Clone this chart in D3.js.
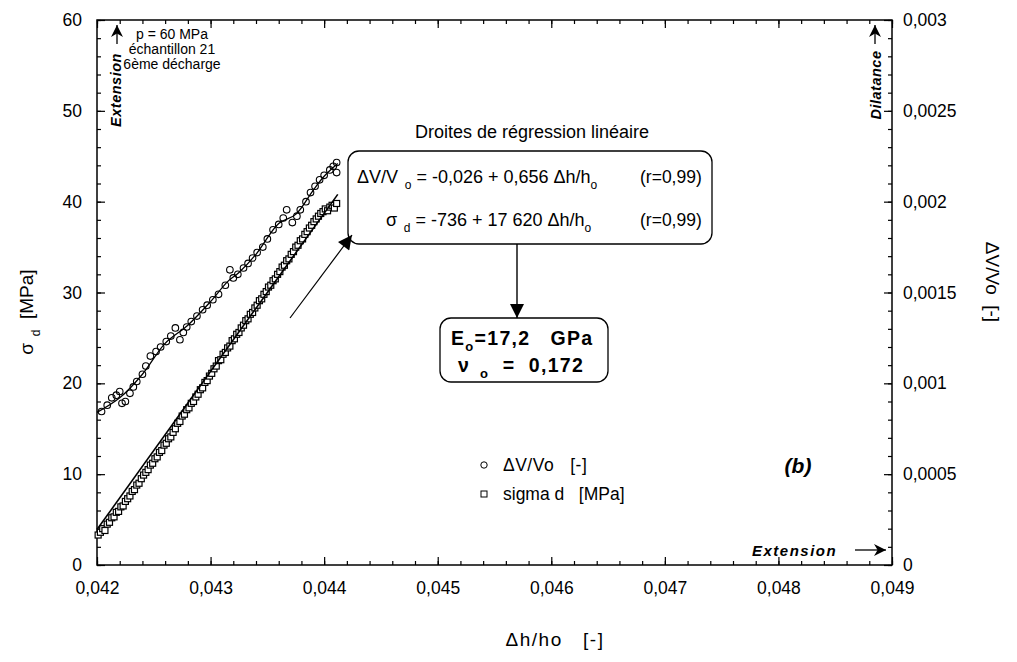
<!DOCTYPE html>
<html>
<head>
<meta charset="utf-8">
<script src="https://cdn.jsdelivr.net/npm/d3@7"></script>
<style>
  body { margin: 0; background: #fff; }
  svg { font-family: Arial, "Liberation Sans", sans-serif; }
</style>
</head>
<body>
<svg id="chart" width="1017" height="662"></svg>
<script>
// ---- data ----
// ΔV/Vo measurements (right axis)
const dvX = [0.04204,0.04209,0.04213,0.04217,0.04220,0.04222,0.04225,0.04229,0.04232,0.04235,
  0.04240,0.04243,0.04247,0.04252,0.04256,0.04261,0.04265,0.04269,0.04273,0.04276,
  0.04279,0.04283,0.04288,0.04293,0.04297,0.04302,0.04307,0.04313,0.04317,0.04320,
  0.04324,0.04329,0.04333,0.04337,0.04341,0.04346,0.04350,0.04355,0.04360,0.04364,
  0.04367,0.04372,0.04376,0.04379,0.04384,0.04388,0.04392,0.04396,0.04400,0.04405,
  0.04408,0.04411,0.04411];
const dvY = [0.000845,0.00088,0.00092,0.000935,0.000955,0.00089,0.0009,0.000945,0.00098,0.00101,
  0.00105,0.001095,0.00115,0.001175,0.0012,0.00123,0.00126,0.001305,0.00124,0.00128,
  0.00131,0.00134,0.00137,0.001405,0.00143,0.00146,0.00149,0.00154,0.001625,0.00158,
  0.0016,0.001635,0.00166,0.00169,0.00172,0.00175,0.001795,0.001845,0.001875,0.00191,
  0.001955,0.001885,0.00192,0.001955,0.002,0.00205,0.002085,0.00212,0.002145,0.002175,
  0.002195,0.002215,0.00216];
// smoothed curve through ΔV/Vo
const dvCurveX = [0.04200,0.04220,0.04240,0.04260,0.04280,0.04300,0.04315,0.04325,0.04340,0.04360,0.04375,0.04390,0.04400,0.04412];
const dvCurveY = [0.00084,0.00092,0.00105,0.00122,0.00132,0.00145,0.00156,0.00161,0.00171,0.00188,0.00193,0.00206,0.00214,0.00221];

// sigma d measurements (left axis)
const sgX = [0.04201,0.04203,0.04205,0.04207,0.04209,0.04211,0.04213,0.04215,0.04217,0.04219,
  0.04221,0.04223,0.04225,0.04227,0.04229,0.04231,0.04233,0.04235,0.04237,0.04239,
  0.04241,0.04243,0.04245,0.04247,0.04249,0.04251,0.04253,0.04255,0.04257,0.04259,
  0.04261,0.04263,0.04265,0.04267,0.04269,0.04271,0.04273,0.04275,0.04277,0.04279,
  0.04281,0.04283,0.04285,0.04287,0.04289,0.04291,0.04293,0.04295,0.04297,0.04299,
  0.04301,0.04303,0.04305,0.04307,0.04309,0.04311,0.04313,0.04315,0.04317,0.04319,
  0.04321,0.04323,0.04325,0.04327,0.04329,0.04331,0.04333,0.04335,0.04337,0.04339,
  0.04341,0.04343,0.04345,0.04347,0.04349,0.04351,0.04353,0.04355,0.04357,0.04359,
  0.04361,0.04363,0.04365,0.04367,0.04369,0.04371,0.04373,0.04375,0.04377,0.04379,
  0.04381,0.04383,0.04385,0.04387,0.04389,0.04391,0.04393,0.04395,0.04397,0.04399,
  0.04401,0.04403,0.04405,0.04407,0.04409,0.04411];
const sgY = [3.3,3.6,4.0,3.8,4.5,4.7,5.2,5.3,5.8,5.9,
  6.4,6.5,7.0,7.3,7.6,8.1,8.3,8.8,9.0,9.5,
  9.9,10.2,10.5,11.0,11.2,11.7,11.9,12.4,12.6,13.2,
  13.4,13.9,14.1,14.6,15.0,15.6,15.8,16.4,16.6,17.1,
  17.3,17.8,18.0,18.5,18.8,19.3,19.5,20.1,20.3,20.8,
  21.1,21.6,21.9,22.5,22.6,23.2,23.4,23.9,24.1,24.7,
  24.9,25.4,25.6,26.1,26.4,26.9,27.1,27.6,27.8,28.3,
  28.6,29.1,29.3,29.8,30.1,30.6,30.8,31.3,31.5,32.0,
  32.3,32.8,33.0,33.5,33.7,34.2,34.5,35.0,35.2,35.7,
  35.9,36.4,36.7,37.1,37.4,37.8,38.1,38.4,38.7,38.9,
  39.2,39.0,39.4,39.6,39.3,39.8];
// straight regression line for sigma d
const sgFitX = [0.0420, 0.04412];
const sgFitY = [3.9, 40.8];

// axis ticks
const xTicks = [0.042,0.043,0.044,0.045,0.046,0.047,0.048,0.049];
const yLeftTicks = [0,10,20,30,40,50,60];
const yRightTicks = [0,0.0005,0.001,0.0015,0.002,0.0025,0.003];

// ---- layout ----
const svg = d3.select("#chart");
const L = 97, R = 892, T = 20, B = 565;

const loc = d3.formatLocale({decimal: ",", thousands: " ", grouping: [3], currency: ["", ""]});

const x = d3.scaleLinear().domain([0.042, 0.049]).range([L, R]);
const yL = d3.scaleLinear().domain([0, 60]).range([B, T]);
const yR = d3.scaleLinear().domain([0, 0.003]).range([B, T]);

const minorX = d3.range(0.042, 0.04901, 0.0002);
const minorYL = d3.range(0, 60.01, 2);
const minorYR = d3.range(0, 0.003001, 0.0001);

function styleAxis(g, fs) {
  g.select(".domain").remove();
  g.selectAll("line").attr("stroke", "#000").attr("stroke-width", 1.2);
  g.selectAll("text").attr("fill", "#000").style("font-size", fs + "px");
}

// minor ticks (inward)
svg.append("g").attr("transform", `translate(0,${B})`)
  .call(d3.axisBottom(x).tickValues(minorX).tickSize(-4).tickFormat(""))
  .call(g => styleAxis(g, 0));
svg.append("g").attr("transform", `translate(0,${T})`)
  .call(d3.axisTop(x).tickValues(minorX).tickSize(-4).tickFormat(""))
  .call(g => styleAxis(g, 0));
svg.append("g").attr("transform", `translate(${L},0)`)
  .call(d3.axisLeft(yL).tickValues(minorYL).tickSize(-4).tickFormat(""))
  .call(g => styleAxis(g, 0));
svg.append("g").attr("transform", `translate(${R},0)`)
  .call(d3.axisRight(yR).tickValues(minorYR).tickSize(-4).tickFormat(""))
  .call(g => styleAxis(g, 0));

// major ticks + labels
svg.append("g").attr("transform", `translate(0,${B})`)
  .call(d3.axisBottom(x).tickValues(xTicks).tickSize(-8).tickPadding(17).tickFormat(loc.format(".3f")))
  .call(g => styleAxis(g, 17.5));
svg.append("g").attr("transform", `translate(0,${T})`)
  .call(d3.axisTop(x).tickValues(xTicks).tickSize(-8).tickFormat(""))
  .call(g => styleAxis(g, 0));
svg.append("g").attr("transform", `translate(${L},0)`)
  .call(d3.axisLeft(yL).tickValues(yLeftTicks).tickSize(-8).tickPadding(15).tickFormat(d3.format("d")))
  .call(g => styleAxis(g, 17.5));
svg.append("g").attr("transform", `translate(${R},0)`)
  .call(d3.axisRight(yR).tickValues(yRightTicks).tickSize(-8).tickPadding(11).tickFormat(loc.format(".4~f")))
  .call(g => styleAxis(g, 17.5));

// frame
svg.append("rect").attr("x", L).attr("y", T).attr("width", R - L).attr("height", B - T)
  .attr("fill", "none").attr("stroke", "#000").attr("stroke-width", 1.5);

// arrow markers
const defs = svg.append("defs");
defs.append("marker").attr("id", "ah").attr("viewBox", "0 0 10 10")
  .attr("refX", 10).attr("refY", 5).attr("markerWidth", 14).attr("markerHeight", 12)
  .attr("markerUnits", "userSpaceOnUse").attr("orient", "auto")
  .append("path").attr("d", "M0,0 L10,5 L0,10 L3,5 Z").attr("fill", "#000");
defs.append("marker").attr("id", "ahBig").attr("viewBox", "0 0 10 10")
  .attr("refX", 10).attr("refY", 5).attr("markerWidth", 16).attr("markerHeight", 14)
  .attr("markerUnits", "userSpaceOnUse").attr("orient", "auto")
  .append("path").attr("d", "M0,0 L10,5 L0,10 Z").attr("fill", "#000");

// ---- data marks ----
const dv = dvX.map((d, i) => [d, dvY[i]]);
const sg = sgX.map((d, i) => [d, sgY[i]]);

svg.append("path")
  .datum(dvCurveX.map((d, i) => [d, dvCurveY[i]]))
  .attr("fill", "none").attr("stroke", "#000").attr("stroke-width", 1.3)
  .attr("d", d3.line().x(d => x(d[0])).y(d => yR(d[1])).curve(d3.curveCatmullRom));

svg.append("g").selectAll("circle").data(dv).join("circle")
  .attr("cx", d => x(d[0])).attr("cy", d => yR(d[1])).attr("r", 3.3)
  .attr("fill", "none").attr("stroke", "#000").attr("stroke-width", 1.1);

svg.append("g").selectAll("rect").data(sg).join("rect")
  .attr("x", d => x(d[0]) - 3).attr("y", d => yL(d[1]) - 3)
  .attr("width", 6).attr("height", 6)
  .attr("fill", "#fff").attr("stroke", "#000").attr("stroke-width", 1.2);

svg.append("path")
  .datum(sgFitX.map((d, i) => [d, sgFitY[i]]))
  .attr("fill", "none").attr("stroke", "#000").attr("stroke-width", 1.6)
  .attr("d", d3.line().x(d => x(d[0])).y(d => yL(d[1])));

// ---- annotations ----
const txt = (xx, yy, s, opt = {}) => svg.append("text").attr("x", xx).attr("y", yy)
  .attr("text-anchor", opt.anchor || "start").style("font-size", (opt.size || 14) + "px")
  .style("font-weight", opt.weight || "normal").style("font-style", opt.style || "normal")
  .style("letter-spacing", opt.ls || "0px").style("white-space", "pre")
  .attr("fill", "#000").text(s);

// axis titles
svg.append("text").attr("transform", "translate(33,312) rotate(-90)")
  .attr("text-anchor", "middle").style("font-size", "19px").style("white-space", "pre")
  .call(t => {
    t.append("tspan").text("σ");
    t.append("tspan").attr("dy", 7).style("font-size", "12px").text("  d");
    t.append("tspan").attr("dy", -7).text("  [MPa]");
  });
svg.append("text").attr("transform", "translate(986,282) rotate(90)")
  .attr("text-anchor", "middle").style("font-size", "19px").style("white-space", "pre")
  .text("ΔV/Vo  [-]");
txt(555, 646, "Δh/ho   [-]", {anchor: "middle", size: 19, ls: "1.5px"});

// top-left info
txt(172, 39, "p = 60 MPa", {anchor: "middle", size: 14});
txt(172, 54, "échantillon 21", {anchor: "middle", size: 14});
txt(172, 69, "6ème décharge", {anchor: "middle", size: 14});

// Extension / Dilatance side labels
svg.append("text").attr("transform", "translate(121,90) rotate(-90)")
  .attr("text-anchor", "middle").style("font-size", "14.5px").style("font-weight", "bold")
  .style("font-style", "italic").style("letter-spacing", "0.5px").text("Extension");
svg.append("line").attr("x1", 117).attr("x2", 117).attr("y1", 44).attr("y2", 25)
  .attr("stroke", "#000").attr("stroke-width", 1.3).attr("marker-end", "url(#ah)");
svg.append("text").attr("transform", "translate(881,85) rotate(-90)")
  .attr("text-anchor", "middle").style("font-size", "14.5px").style("font-weight", "bold")
  .style("font-style", "italic").style("letter-spacing", "0.5px").text("Dilatance");
svg.append("line").attr("x1", 875).attr("x2", 875).attr("y1", 44).attr("y2", 25)
  .attr("stroke", "#000").attr("stroke-width", 1.3).attr("marker-end", "url(#ah)");
txt(752, 556, "Extension", {size: 15, weight: "bold", style: "italic", ls: "1.5px"});
svg.append("line").attr("x1", 855).attr("x2", 886).attr("y1", 550).attr("y2", 550)
  .attr("stroke", "#000").attr("stroke-width", 1.3).attr("marker-end", "url(#ah)");

// regression box
txt(532, 138, "Droites de régression linéaire", {anchor: "middle", size: 18});
svg.append("rect").attr("x", 348).attr("y", 151).attr("width", 364).attr("height", 93)
  .attr("rx", 11).attr("fill", "#fff").attr("stroke", "#000").attr("stroke-width", 1.3);
svg.append("text").attr("x", 357).attr("y", 183).style("font-size", "18px").style("white-space", "pre")
  .call(t => {
    t.append("tspan").text("ΔV/V");
    t.append("tspan").attr("dy", 6).style("font-size", "12px").text("  o");
    t.append("tspan").attr("dy", -6).text(" = -0,026 + 0,656 Δh/h");
    t.append("tspan").attr("dy", 6).style("font-size", "12px").text("o");
    t.append("tspan").attr("dy", -6).attr("x", 640).style("font-size", "17.5px").text("(r=0,99)");
  });
svg.append("text").attr("x", 386).attr("y", 226).style("font-size", "18px").style("white-space", "pre")
  .call(t => {
    t.append("tspan").text("σ");
    t.append("tspan").attr("dy", 6).style("font-size", "12px").text("  d");
    t.append("tspan").attr("dy", -6).text(" = -736 + 17 620 Δh/h");
    t.append("tspan").attr("dy", 6).style("font-size", "12px").text("o");
    t.append("tspan").attr("dy", -6).attr("x", 640).style("font-size", "17.5px").text("(r=0,99)");
  });
svg.append("line").attr("x1", 517).attr("x2", 517).attr("y1", 244).attr("y2", 318)
  .attr("stroke", "#000").attr("stroke-width", 1.4).attr("marker-end", "url(#ahBig)");

// results box
svg.append("rect").attr("x", 440).attr("y", 318).attr("width", 168).attr("height", 64)
  .attr("rx", 11).attr("fill", "#fff").attr("stroke", "#000").attr("stroke-width", 1.3);
svg.append("text").attr("x", 451).attr("y", 345).style("font-size", "19.5px").style("font-weight", "bold")
  .style("white-space", "pre").style("letter-spacing", "1.3px")
  .call(t => {
    t.append("tspan").text("E");
    t.append("tspan").attr("dy", 6).style("font-size", "13px").text("o");
    t.append("tspan").attr("dy", -6).text("=17,2   GPa");
  });
svg.append("text").attr("x", 458).attr("y", 372).style("font-size", "19.5px").style("font-weight", "bold")
  .style("white-space", "pre").style("letter-spacing", "1.3px")
  .call(t => {
    t.append("tspan").text("ν");
    t.append("tspan").attr("dy", 6).style("font-size", "13px").text("  o");
    t.append("tspan").attr("dy", -6).text("  =  0,172");
  });

// loading direction arrow
svg.append("line").attr("x1", 290).attr("x2", 352).attr("y1", 318).attr("y2", 235)
  .attr("stroke", "#000").attr("stroke-width", 1.2).attr("marker-end", "url(#ahBig)");

// legend
svg.append("circle").attr("cx", 484).attr("cy", 465).attr("r", 3.2)
  .attr("fill", "#fff").attr("stroke", "#000");
txt(503, 471, "ΔV/Vo   [-]", {size: 17.5, ls: "0.5px"});
svg.append("rect").attr("x", 481).attr("y", 491).attr("width", 6).attr("height", 6)
  .attr("fill", "#fff").attr("stroke", "#000");
txt(503, 500, "sigma d   [MPa]", {size: 17.5});

txt(798, 473, "(b)", {anchor: "middle", size: 21, weight: "bold", style: "italic"});
</script>
</body>
</html>
